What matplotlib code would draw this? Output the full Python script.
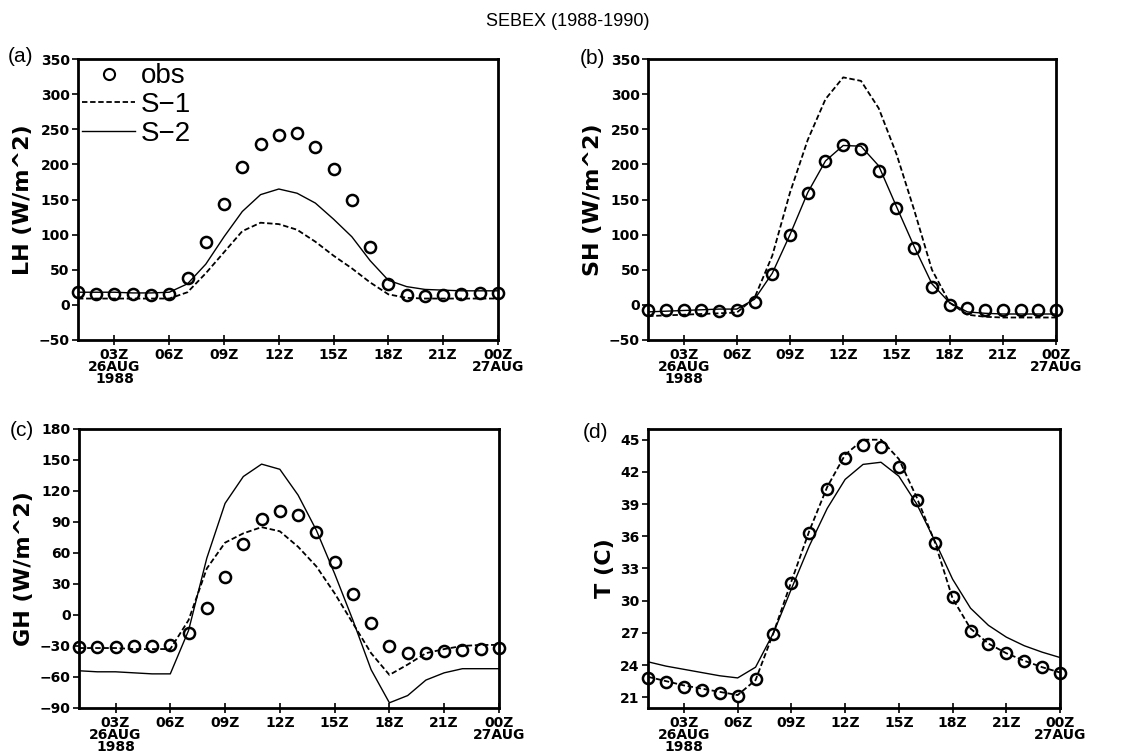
import matplotlib
matplotlib.use("Agg")
import matplotlib.pyplot as plt
from matplotlib.lines import Line2D

hours = list(range(1, 25))

# (a) latent heat
lh_obs = [18, 16, 16, 15, 14, 15, 38, 90, 143, 196, 229, 242, 245, 225, 194, 150, 83, 30, 14, 13, 14, 16, 17, 17]
lh_s1 = [9, 9, 9, 9, 9, 9, 18, 45, 75, 105, 117, 115, 107, 90, 70, 52, 32, 15, 10, 9, 9, 9, 9, 9]
lh_s2 = [18, 18, 18, 17, 17, 18, 30, 58, 97, 133, 157, 165, 159, 145, 122, 97, 63, 35, 26, 22, 21, 20, 20, 20]

# (b) sensible heat
sh_obs = [-8, -7, -8, -8, -9, -8, 4, 44, 100, 159, 205, 227, 222, 190, 138, 81, 26, 0, -5, -7, -8, -8, -8, -8]
sh_s1 = [-16, -15, -14, -13, -12, -11, 10, 70, 160, 235, 293, 324, 319, 280, 215, 135, 50, 3, -14, -17, -18, -18, -18, -18]
sh_s2 = [-10, -9, -8, -7, -6, -6, 8, 45, 100, 160, 205, 227, 226, 198, 140, 83, 30, 3, -10, -12, -13, -13, -13, -13]

# (c) ground heat
gh_obs = [-31, -31, -31, -30, -30, -29, -17, 7, 37, 69, 93, 101, 97, 80, 51, 20, -8, -30, -37, -37, -35, -34, -33, -32]
gh_s1 = [-32, -32, -32, -33, -33, -33, -5, 45, 70, 79, 85, 81, 66, 47, 21, -8, -37, -58, -48, -37, -33, -30, -29, -29]
gh_s2 = [-54, -55, -55, -56, -57, -57, -15, 55, 108, 134, 146, 141, 116, 82, 40, -5, -53, -85, -78, -63, -56, -52, -52, -52]

# (d) temperature
t_obs = [22.8, 22.4, 22.0, 21.7, 21.4, 21.1, 22.7, 26.9, 31.6, 36.3, 40.4, 43.3, 44.5, 44.3, 42.5, 39.4, 35.4, 30.3, 27.2, 26.0, 25.1, 24.4, 23.8, 23.3]
t_s1 = [22.9, 22.5, 22.1, 21.8, 21.5, 21.2, 22.6, 27.0, 31.8, 36.5, 40.6, 43.6, 45.0, 45.0, 43.2, 39.6, 35.5, 30.2, 27.4, 26.0, 25.1, 24.4, 23.8, 23.3]
t_s2 = [24.3, 23.9, 23.6, 23.3, 23.0, 22.8, 23.8, 27.0, 31.1, 35.1, 38.6, 41.3, 42.7, 42.9, 41.6, 39.0, 35.6, 32.0, 29.3, 27.7, 26.6, 25.8, 25.2, 24.7]

xticks = [3, 6, 9, 12, 15, 18, 21, 24]
xlabels = ["03Z\n26AUG\n1988", "06Z", "09Z", "12Z", "15Z", "18Z", "21Z", "00Z\n27AUG"]

fig = plt.figure(figsize=(11.35, 7.55), dpi=100)
fig.text(0.5, 0.972, "SEBEX (1988-1990)", ha="center", va="center", fontsize=13, family="Liberation Sans")

# tag, axes rect, tag position (px from top-left), data, ylabel, ylim, yticks
panels = [
    ("(a)", [0.0687, 0.5497, 0.370, 0.372], (20, 57), lh_obs, lh_s1, lh_s2, "LH (W/m^2)", (-50, 350), range(-50, 351, 50)),
    ("(b)", [0.571, 0.5497, 0.3595, 0.372], (592, 58), sh_obs, sh_s1, sh_s2, "SH (W/m^2)", (-50, 350), range(-50, 351, 50)),
    ("(c)", [0.0696, 0.0623, 0.370, 0.3695], (22, 430), gh_obs, gh_s1, gh_s2, "GH (W/m^2)", (-90, 180), range(-90, 181, 30)),
    ("(d)", [0.571, 0.0623, 0.363, 0.3695], (595, 432), t_obs, t_s1, t_s2, "T (C)", (20, 46), range(21, 46, 3)),
]

for tag, pos, tpos, obs, s1, s2, ylab, ylim, yt in panels:
    ax = fig.add_axes(pos)
    ax.plot(hours, s1, color="black", lw=1.3, ls=(0, (3, 1.5)), zorder=2)
    ax.plot(hours, s2, color="black", lw=1.0, zorder=2)
    ax.plot(hours, obs, ls="none", marker="o", ms=8, mfc="none", mec="black", mew=1.8, zorder=3, clip_on=False)
    ax.set_xlim(1, 24)
    ax.set_ylim(*ylim)
    ax.set_yticks(list(yt))
    ax.set_xticks(xticks)
    ax.set_xticklabels(xlabels, fontsize=10, fontweight="bold", linespacing=0.85)
    for lab in ax.get_yticklabels():
        lab.set_fontsize(10)
        lab.set_fontweight("bold")
    ax.tick_params(axis="x", direction="inout", length=7, width=1.2, pad=2)
    ax.tick_params(axis="y", direction="out", length=4, width=1.2, pad=2)
    for sp in ax.spines.values():
        sp.set_linewidth(2)
    ax.set_ylabel(ylab, fontsize=16, fontweight="bold", labelpad=4)
    fig.text(tpos[0] / 1135, 1 - tpos[1] / 755, tag, fontsize=15, ha="center", va="center",
             family="Liberation Sans")

    if tag == "(a)":
        handles = [
            Line2D([], [], ls="none", marker="o", ms=8, mfc="none", mec="black", mew=1.5),
            Line2D([], [], color="black", lw=1.3, ls=(0, (3, 1.5))),
            Line2D([], [], color="black", lw=1.0),
        ]
        ax.legend(handles, ["obs", "S\u22121", "S\u22122"], loc="upper left", frameon=False,
                  handlelength=1.9, handletextpad=0.2, labelspacing=0.1,
                  borderaxespad=0.0, borderpad=0.15,
                  prop={"family": "Liberation Sans", "size": 20})

fig.savefig("out.png", dpi=100)
